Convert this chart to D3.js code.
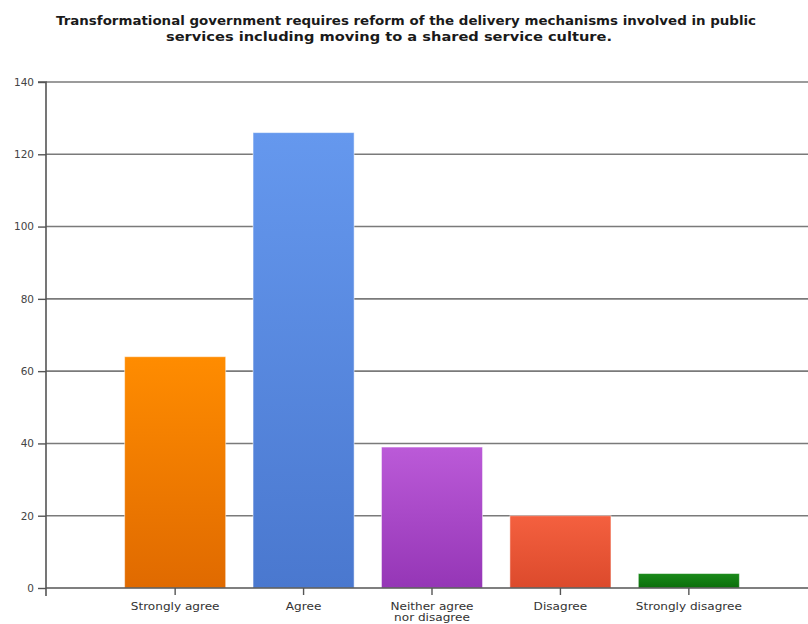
<!DOCTYPE html>
<html>
<head>
<meta charset="utf-8">
<script src="https://cdn.jsdelivr.net/npm/d3@7"></script>
<style>
  html, body { margin: 0; padding: 0; background: #fff; }
  svg { display: block; }
</style>
</head>
<body>
<svg id="chart" width="808" height="624"></svg>
<script>
// Survey responses
const categories = ["Strongly agree", "Agree", "Neither agree nor disagree", "Disagree", "Strongly disagree"];
const categoryLines = [["Strongly agree"], ["Agree"], ["Neither agree", "nor disagree"], ["Disagree"], ["Strongly disagree"]];
const values = [64, 126, 39, 20, 4];
const yTicks = [0, 20, 40, 60, 80, 100, 120, 140];
const titleLines = [
  "Transformational government requires reform of the delivery mechanisms involved in public",
  "services including moving to a shared service culture."
];
const barColors = [
  ["#ff8c00", "#e06a00"],
  ["#6598ee", "#4a78cf"],
  ["#bb5ad8", "#9536b6"],
  ["#f4603f", "#dc4a2c"],
  ["#1a8a1a", "#0b6e0b"]
];

const svg = d3.select("#chart");
const W = 808;
const axisX = 46;
const font = "DejaVu Sans, Verdana, sans-serif";

const x = d3.scaleBand().domain(categories).range([111, 753]).paddingInner(0.213).paddingOuter(0.106);
const y = d3.scaleLinear().domain([0, 140]).range([588, 82]);

// Title, two centred lines
const titleWidths = [700, 446];
svg.append("g").selectAll("text").data(titleLines).join("text")
  .attr("x", (d, i) => i === 0 ? 406 : 389).attr("y", (d, i) => 25 + i * 16)
  .attr("text-anchor", "middle")
  .attr("font-family", font)
  .attr("font-weight", "bold").attr("font-size", 13)
  .attr("textLength", (d, i) => titleWidths[i])
  .attr("lengthAdjust", "spacingAndGlyphs")
  .attr("fill", "#1a1a1a")
  .text(d => d);

// Gradients
const defs = svg.append("defs");
barColors.forEach((c, i) => {
  const g = defs.append("linearGradient").attr("id", "grad" + i)
    .attr("x1", 0).attr("y1", 0).attr("x2", 0).attr("y2", 1);
  g.append("stop").attr("offset", "0%").attr("stop-color", c[0]);
  g.append("stop").attr("offset", "100%").attr("stop-color", c[1]);
});

// Gridlines
svg.append("g").selectAll("line").data(yTicks.filter(t => t > 0)).join("line")
  .attr("x1", axisX).attr("x2", W)
  .attr("y1", d => y(d)).attr("y2", d => y(d))
  .attr("stroke", "#7a7a7a").attr("stroke-width", 1.6);

// Bars
svg.append("g").selectAll("rect").data(values).join("rect")
  .attr("x", (d, i) => x(categories[i]))
  .attr("y", d => y(d))
  .attr("width", x.bandwidth())
  .attr("height", d => y(0) - y(d))
  .attr("fill", (d, i) => `url(#grad${i})`)
  .attr("stroke", "rgba(255,255,255,0.5)").attr("stroke-width", 1);

// Y axis
const yAxis = d3.axisLeft(y).tickValues(yTicks).tickSize(8).tickPadding(4);
const gy = svg.append("g").attr("transform", `translate(${axisX},0)`).call(yAxis);
gy.select(".domain").attr("stroke", "#555").attr("stroke-width", 1.6).attr("d", `M-8,${y(140)}H0V${y(0) + 8}`);
gy.selectAll(".tick line").attr("stroke", "#555").attr("stroke-width", 1.4);
gy.selectAll(".tick text").attr("font-family", font)
  .attr("font-size", 10.5).attr("fill", "#444");

// X axis
const xAxis = d3.axisBottom(x).tickSize(7).tickFormat("");
const gx = svg.append("g").attr("transform", `translate(0,${y(0)})`).call(xAxis);
gx.select(".domain").attr("stroke", "#555").attr("stroke-width", 1.6).attr("d", `M${axisX},0H${W}`);
gx.selectAll(".tick line").attr("stroke", "#555").attr("stroke-width", 1.4);

// Category labels, slightly widened
const lbl = svg.append("g").selectAll("text").data(categories).join("text")
  .attr("x", d => x(d) + x.bandwidth() / 2)
  .attr("y", 610)
  .attr("text-anchor", "middle")
  .attr("font-family", font)
  .attr("font-size", 10.5).attr("fill", "#333");
lbl.each(function(d, i) {
  d3.select(this).selectAll("tspan").data(categoryLines[i]).join("tspan")
    .attr("x", x(d) + x.bandwidth() / 2)
    .attr("dy", (t, j) => j === 0 ? 0 : 11)
    .text(t => t)
    .each(function() {
      const w = this.getComputedTextLength();
      d3.select(this).attr("textLength", w * 1.15).attr("lengthAdjust", "spacingAndGlyphs");
    });
});
</script>
</body>
</html>
